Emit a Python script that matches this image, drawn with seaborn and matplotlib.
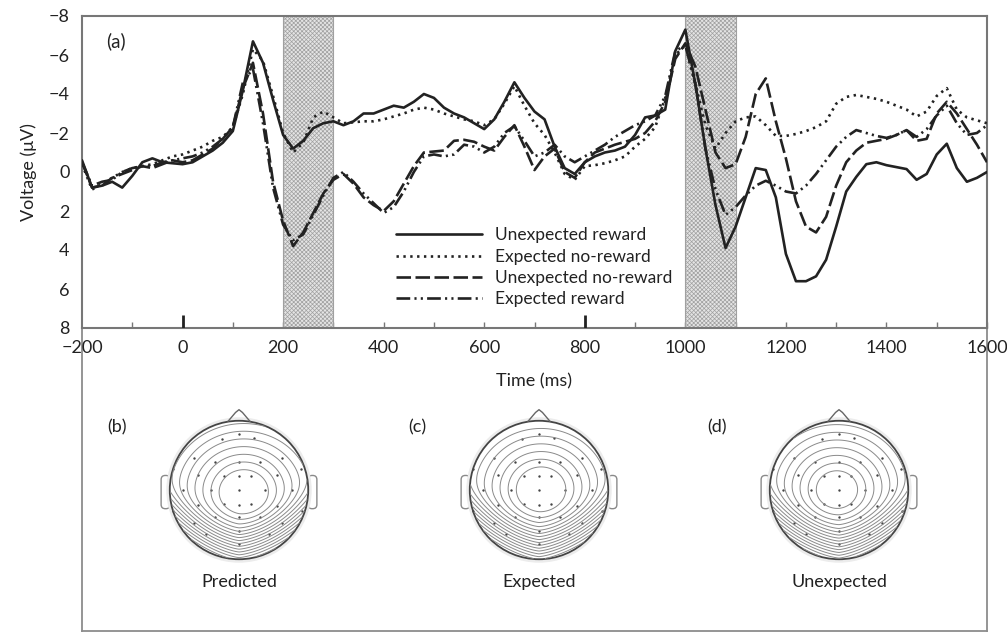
import numpy as np
import pandas as pd
import matplotlib
matplotlib.use("Agg")
import matplotlib.pyplot as plt
import seaborn as sns
from matplotlib.patches import Circle, FancyBboxPatch

# ERP waveforms (voltage in microvolts, sampled every 20 ms)
time_ms = list(range(-200, 1601, 20))

unexpected_reward = [
    -0.6, 0.8, 0.7, 0.5, 0.8, 0.2, -0.5, -0.7, -0.5, -0.45,
    -0.4, -0.5, -0.8, -1.1, -1.5, -2.1, -4.2, -6.7, -5.6, -3.7,
    -1.9, -1.2, -1.6, -2.25, -2.5, -2.6, -2.4, -2.6, -3.0, -3.0,
    -3.2, -3.4, -3.3, -3.6, -4.0, -3.8, -3.3, -3.0, -2.8, -2.5,
    -2.2, -2.7, -3.6, -4.6, -3.8, -3.1, -2.7, -1.3, -0.2, 0.1,
    -0.5, -0.8, -1.0, -1.1, -1.3, -1.9, -2.8, -2.9, -3.2, -6.2,
    -7.3, -4.5, -1.2, 1.7, 3.9, 2.8, 1.3, -0.2, -0.1, 1.3,
    4.2, 5.6, 5.6, 5.35, 4.5, 2.8, 1.0, 0.25, -0.4, -0.5,
    -0.35, -0.25, -0.15, 0.4, 0.1, -0.9, -1.45, -0.2, 0.5, 0.3,
    0.0]

expected_no_reward = [
    -0.4, 0.9, 0.6, 0.3, 0.0, -0.2, -0.3, -0.4, -0.6, -0.8,
    -0.9, -1.1, -1.3, -1.6, -1.8, -2.3, -4.0, -6.3, -5.7, -3.9,
    -2.0, -1.0, -1.5, -2.8, -3.1, -2.8, -2.5, -2.55, -2.6, -2.6,
    -2.7, -2.85, -3.0, -3.2, -3.3, -3.2, -3.0, -2.85, -2.7, -2.6,
    -2.4, -2.7, -3.5, -4.4, -3.4, -2.5, -1.9, -1.0, 0.1, 0.4,
    -0.3, -0.35, -0.45, -0.6, -0.8, -1.3, -1.7, -2.3, -3.8, -6.0,
    -6.5, -4.5, -2.4, -1.2, -2.0, -2.6, -2.8, -2.85, -2.4, -1.85,
    -1.85, -1.95, -2.1, -2.3, -2.6, -3.5, -3.85, -3.95, -3.85, -3.75,
    -3.6, -3.4, -3.2, -2.85, -3.1, -3.9, -4.3, -3.2, -2.8, -2.65,
    -2.5]

unexpected_no_reward = [
    -0.5, 0.8, 0.7, 0.3, 0.1, -0.1, -0.3, -0.2, -0.4, -0.6,
    -0.5, -0.6, -0.9, -1.2, -1.7, -2.3, -4.3, -5.6, -3.0, 0.5,
    2.5, 3.8, 3.1, 2.1, 1.1, 0.4, 0.1, 0.6, 1.3, 1.7,
    2.0, 1.5, 0.6, -0.3, -1.0, -1.05, -1.1, -1.6, -1.65, -1.55,
    -1.3, -1.1, -1.8, -2.4, -1.3, -0.1, -0.8, -1.2, 0.0, 0.3,
    -0.5, -1.0, -1.2, -1.4, -1.55, -1.7, -2.0, -2.6, -3.6, -5.8,
    -6.6, -5.4, -3.2, -1.0, -0.2, -0.4, -1.8, -4.0, -4.8, -2.6,
    -0.7, 1.5, 2.8, 3.1, 2.3, 0.7, -0.5, -1.1, -1.5, -1.6,
    -1.7, -1.9, -2.15, -1.6, -1.7, -3.0, -3.6, -3.0, -2.2, -1.4,
    -0.5]

expected_reward = [
    -0.5, 0.7, 0.5, 0.4, 0.0, -0.2, -0.3, -0.3, -0.5, -0.6,
    -0.7, -0.8, -1.0, -1.3, -1.7, -2.3, -4.6, -5.3, -2.5, 0.8,
    2.7, 3.5, 3.2, 2.2, 1.2, 0.3, 0.0, 0.5, 1.1, 1.6,
    2.1, 1.8, 1.0, 0.0, -0.8, -0.9, -0.8, -0.9, -1.4, -1.3,
    -1.0, -1.3, -2.0, -2.35, -1.6, -0.8, -1.0, -1.4, -0.8, -0.5,
    -0.8, -1.1, -1.4, -1.8, -2.1, -2.4, -2.6, -2.9, -3.9, -6.2,
    -6.5, -4.5, -1.2, 0.9, 2.2, 1.8, 1.2, 0.7, 0.45, 0.7,
    1.0, 1.1, 0.7, 0.1, -0.6, -1.3, -1.8, -2.15, -2.0, -1.85,
    -1.75, -1.9, -2.15, -1.8, -2.2, -2.9, -3.4, -2.5, -1.9, -2.0,
    -2.4]

series_names = ["Unexpected reward", "Expected no-reward",
                "Unexpected no-reward", "Expected reward"]
series_values = [unexpected_reward, expected_no_reward,
                 unexpected_no_reward, expected_reward]
series_styles = ["-", (0, (0.9, 1.7)), (0, (5.5, 1.7)),
                 (0, (5.2, 1.6, 0.8, 1.6, 0.8, 1.6))]

# shaded analysis windows (ms)
window_start = [200, 1000]
window_end = [300, 1100]

# topographic maps
topo_letters = ["(b)", "(c)", "(d)"]
topo_captions = ["Predicted", "Expected", "Unexpected"]
topo_cx = [0.07, 0.03, -0.03]
topo_cy = [-0.04, 0.0, 0.0]
topo_base = [0.36, 0.36, 0.30]

elec_x = [0, -0.24, 0.22, -0.65, -0.35, 0, 0.31, 0.62, -0.59, -0.22, 0, 0.18, 0.55,
          -0.81, -0.41, 0, 0.38, 0.77, -0.59, -0.22, 0, 0.18, 0.55, -0.35, 0, 0.31,
          -0.65, 0.62, 0, -0.48, 0.43, 0, -0.95, 0.9, -0.95, 0.91]
elec_y = [0.81, 0.74, 0.75, 0.46, 0.41, 0.41, 0.41, 0.46, 0.22, 0.2, 0.2, 0.2, 0.22,
          0, 0, 0, 0, 0, -0.22, -0.2, -0.22, -0.2, -0.23, -0.39, -0.39, -0.39,
          -0.47, -0.47, -0.59, -0.63, -0.63, -0.78, 0.3, 0.3, -0.3, -0.3]

sns.set_theme(style="white")
plt.rcParams["font.family"] = ["Lato", "DejaVu Sans"]
plt.rcParams["hatch.linewidth"] = 0.5
plt.rcParams["hatch.color"] = "#ababab"
ink = "#222222"

W, H = 1007, 633
fig = plt.figure(figsize=(W / 100, H / 100), dpi=100)

# outer frame for the lower panel
frame = fig.add_axes([82 / W, 2 / H, 905 / W, 326 / H])
frame.set_xticks([])
frame.set_yticks([])
for side, sp in frame.spines.items():
    sp.set_color("#8c8c8c")
    sp.set_linewidth(1.3)
frame.spines["top"].set_visible(False)

# main ERP panel
ax = fig.add_axes([82 / W, 1 - 328 / H, 905 / W, 312 / H])
for s, e in zip(window_start, window_end):
    ax.axvspan(s, e, facecolor="#e4e4e4", edgecolor="#a0a0a0", hatch="xxxxxxxx", lw=0.8, zorder=1)

for name, vals, ls in zip(series_names, series_values, series_styles):
    df = pd.DataFrame({"time": time_ms, "voltage": vals})
    sns.lineplot(data=df, x="time", y="voltage", ax=ax, color=ink, lw=1.9,
                 linestyle=ls, label=name, estimator=None, zorder=3)

ax.set_xlim(-200, 1600)
ax.set_ylim(8, -8)
ax.set_yticks(range(-8, 9, 2))
ax.set_xticks(range(-200, 1601, 200))
ax.set_xticks(range(-100, 1601, 100), minor=True)
ax.xaxis.remove_overlapping_locs = False
ax.tick_params(axis="x", which="major", length=0, pad=9, labelsize=13, colors=ink)
ax.tick_params(axis="x", which="minor", length=4, width=1, direction="in", color="#777", bottom=True)
ax.tick_params(axis="y", length=0, pad=9, labelsize=13, colors=ink)
ax.vlines([0, 800], 8, 7.35, color=ink, lw=2, zorder=4)
ax.set_xlabel("Time (ms)", fontsize=13, color=ink, labelpad=12)
ax.set_ylabel("Voltage (\u03bcV)", fontsize=13, color=ink, labelpad=8)
for sp in ax.spines.values():
    sp.set_color("#777777")
    sp.set_linewidth(1.5)
ax.text(0.038, 0.92, "(a)", transform=ax.transAxes, fontsize=13.5, color=ink,
        ha="center", va="center")
ax.legend(loc="upper left", bbox_to_anchor=(0.337, 0.35), frameon=False,
          fontsize=12.5, handlelength=5.0, handletextpad=0.75, labelspacing=0.3,
          borderpad=0, labelcolor=ink)

# head maps
gx, gy = np.meshgrid(np.linspace(-1, 1, 400), np.linspace(-1, 1, 400))
centers = [239, 539, 839]
cyp = 490
for i, cxp in enumerate(centers):
    hx = fig.add_axes([(cxp - 90) / W, 1 - (cyp + 90) / H, 180 / W, 180 / H])
    hx.set_xlim(-1.3, 1.3)
    hx.set_ylim(-1.3, 1.3)
    hx.set_aspect("equal")
    hx.axis("off")
    for side in (-1, 1):
        hx.add_patch(FancyBboxPatch((side * 1.06 - 0.065, -0.27), 0.13, 0.48,
                                    boxstyle="round,pad=0,rounding_size=0.06",
                                    fc="white", ec="#8a8a8a", lw=1))
    hx.add_patch(Circle((0, 0), 1.025, fc="white", ec="#ececec", lw=2.5))
    hx.plot([-0.16, -0.05, 0, 0.05, 0.16], [0.99, 1.12, 1.16, 1.12, 0.99],
            color="#666", lw=1)
    dx = gx - topo_cx[i]
    dy = gy - topo_cy[i]
    r = np.hypot(dx, dy * 1.08)
    thr = -0.5 + 0.5 * np.abs(gx) ** 1.3
    w = 0.09
    f = r + 1.9 * w * np.log1p(np.exp((thr - gy) / w))
    f = np.ma.masked_where(np.hypot(gx, gy) > 0.995, f)
    hx.contour(gx, gy, f, levels=np.arange(topo_base[i], 5, 0.12),
               colors="#8a8a8a", linewidths=0.7)
    hx.add_patch(Circle((0, 0), 1.0, fc="none", ec="#444", lw=1.3))
    sns.scatterplot(x=elec_x, y=elec_y, ax=hx, color="#444", s=3, linewidth=0)
    fig.text((cxp - 122) / W, 1 - 427 / H, topo_letters[i], fontsize=13,
             color=ink, ha="center", va="center")
    fig.text(cxp / W, 1 - 582 / H, topo_captions[i], fontsize=13,
             color=ink, ha="center", va="center")

fig.savefig("out.png", dpi=100)
